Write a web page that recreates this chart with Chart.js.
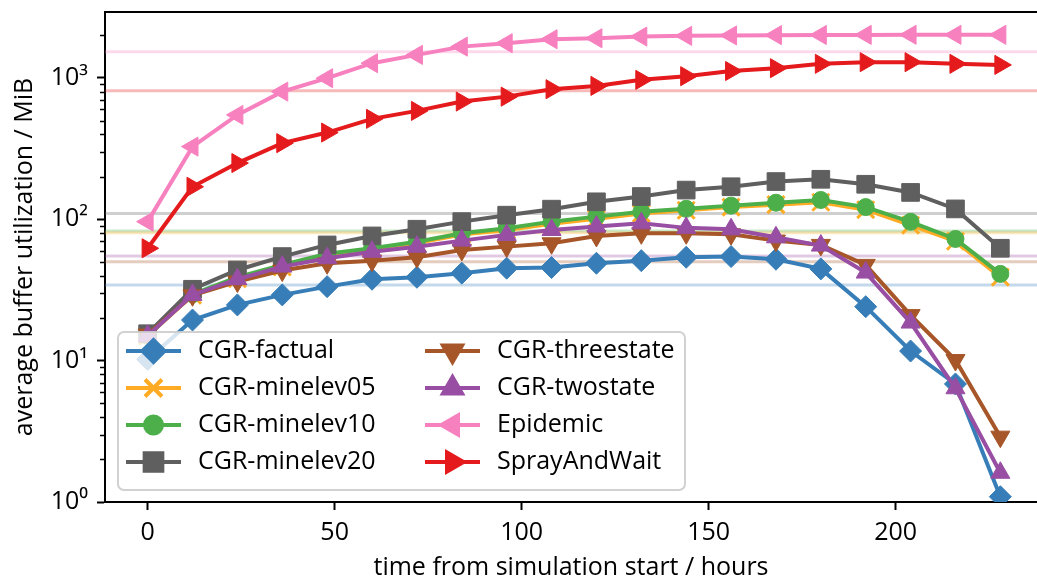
<!DOCTYPE html>
<html>
<head>
<meta charset="utf-8">
<title>Buffer utilization</title>
<script src="https://cdn.jsdelivr.net/npm/chart.js@4.4.1/dist/chart.umd.min.js"></script>
<style>
  html, body { margin: 0; padding: 0; background: #fff; overflow: hidden; }
  #wrap { width: 1037px; height: 579px; overflow: hidden; }
</style>
</head>
<body>
<div id="wrap"><canvas id="bufferChart" width="1037" height="579"></canvas></div>
<script>
// hours since simulation start
const hours = [0, 12, 24, 36, 48, 60, 72, 84, 96, 108, 120, 132, 144, 156, 168, 180, 192, 204, 216, 228];

// average buffer utilization (MiB) per routing scheme
const cgrFactual    = [10.2, 19.4, 24.8, 29.2, 33.4, 37.7, 38.9, 41.6, 45.1, 45.6, 48.9, 51, 53.9, 54.5, 52.2, 44.6, 24.1, 11.7, 6.84, 1.09];
const cgrMinelev05  = [15, 29, 38, 46, 56, 61, 68, 78, 84, 93, 101, 110, 116, 122, 127, 132, 117, 91, 70, 39];
const cgrMinelev10  = [15, 29.5, 39, 47.5, 57, 62.4, 69.5, 79.7, 86.5, 96.3, 104.5, 113, 118.6, 125, 131, 137, 122, 96, 72.6, 41.1];
const cgrMinelev20  = [15.5, 32, 43.8, 54.5, 65.9, 76.3, 85.1, 96.3, 107, 118, 133, 145, 161, 170, 185, 192, 177, 155, 118.5, 62.4];
const cgrThreestate = [15.3, 29, 36.3, 43.4, 48.9, 51, 54, 60.7, 64.1, 67.7, 76.3, 79.7, 79.7, 78.4, 70.7, 65.9, 47.6, 21, 10.1, 2.9];
const cgrTwostate   = [15, 29.2, 37.7, 46.3, 53.1, 59, 64, 70.7, 77.6, 84.1, 88.8, 93.7, 87, 85, 74.6, 65.2, 42, 18.6, 6.38, 1.61];
const epidemic      = [96.3, 327, 548, 801, 997, 1273, 1457, 1667, 1762, 1880, 1910, 1963, 1986, 2000, 2010, 2015, 2018, 2020, 2020, 2020];
const sprayAndWait  = [62.4, 170, 250, 346, 411, 514, 585, 681, 738, 833, 879, 970, 1030, 1120, 1173, 1259, 1294, 1294, 1259, 1238];

// mean over the whole run, drawn as faint horizontal lines
const meanLevels = [34.3, 80.5, 82.6, 110, 50, 55, 1535, 813];

const seriesNames = ['CGR-factual', 'CGR-minelev05', 'CGR-minelev10', 'CGR-minelev20',
                     'CGR-threestate', 'CGR-twostate', 'Epidemic', 'SprayAndWait'];
const seriesValues = [cgrFactual, cgrMinelev05, cgrMinelev10, cgrMinelev20,
                      cgrThreestate, cgrTwostate, epidemic, sprayAndWait];

const xTicks = [0, 50, 100, 150, 200];
const yTicks = [1, 10, 100, 1000];
const yTickLabels = ['10\u2070', '10\u00b9', '10\u00b2', '10\u00b3'];

// view limits (the right edge of the original figure is cropped)
const xMin = -11.4, xMax = 237.8;
const yMin = 1, yMax = 2930;

// marker look, same order as the series
const seriesColors = ['#377eb8', '#ffab23', '#4daf4a', '#5f5f5f', '#a65628', '#984ea3', '#f781bf', '#e41a1c'];
const meanColors = ['rgba(55,126,184,0.3)', 'rgba(255,171,35,0.3)', 'rgba(77,175,74,0.3)', 'rgba(95,95,95,0.3)',
                    'rgba(166,86,40,0.3)', 'rgba(152,78,163,0.3)', 'rgba(247,129,191,0.3)', 'rgba(228,26,28,0.3)'];
const markers = [
  { style: 'rectRot', rotation: 0, radius: 11, border: 1 },
  { style: 'crossRot', rotation: 0, radius: 12, border: 3 },
  { style: 'circle', rotation: 0, radius: 8.5, border: 1 },
  { style: 'rect', rotation: 0, radius: 12.5, border: 1 },
  { style: 'triangle', rotation: 180, radius: 11, border: 1 },
  { style: 'triangle', rotation: 0, radius: 11, border: 1 },
  { style: 'triangle', rotation: 270, radius: 11, border: 1 },
  { style: 'triangle', rotation: 90, radius: 11, border: 1 }
];

const FONT = '"Open Sans", "Noto Sans", sans-serif';
const FSIZE = 25;

document.addEventListener('DOMContentLoaded', function() {
  const ctx = document.getElementById('bufferChart');

  const datasets = [];

  // faint mean lines (behind everything)
  meanLevels.forEach((m, i) => {
    datasets.push({
      label: 'mean ' + seriesNames[i],
      data: [{ x: xMin, y: m }, { x: xMax, y: m }],
      borderColor: meanColors[i],
      borderWidth: 3,
      pointRadius: 0,
      order: 100,
      clip: 0
    });
  });

  seriesValues.forEach((vals, i) => {
    const mk = markers[i];
    datasets.push({
      label: seriesNames[i],
      data: hours.map((h, j) => ({ x: h, y: vals[j] })),
      borderColor: seriesColors[i],
      backgroundColor: seriesColors[i],
      borderWidth: 4,
      pointStyle: mk.style,
      pointRotation: mk.rotation,
      pointRadius: mk.radius,
      pointBorderWidth: mk.border,
      pointBackgroundColor: seriesColors[i],
      pointBorderColor: seriesColors[i],
      tension: 0,
      order: 20 - i,
      clip: 0
    });
  });

  // minor ticks on the log axis
  const minorTicks = {
    id: 'minorTicks',
    afterDraw(chart) {
      const y = chart.scales.y;
      const c = chart.ctx;
      c.save();
      c.strokeStyle = '#000';
      c.lineWidth = 1.5;
      for (let e = 0; e < 4; e++) {
        for (let m = 2; m < 10; m++) {
          const v = m * Math.pow(10, e);
          if (v > y.max) continue;
          const py = Math.round(y.getPixelForValue(v)) + 0.5;
          c.beginPath();
          c.moveTo(y.right, py);
          c.lineTo(y.right - 5, py);
          c.stroke();
        }
      }
      c.restore();
    }
  };

  // matplotlib-style legend box, two columns
  const boxLegend = {
    id: 'boxLegend',
    afterDatasetsDraw(chart) {
      const c = chart.ctx;
      c.save();
      c.beginPath();
      c.roundRect(118, 332, 567, 158, 6);
      c.fillStyle = 'rgba(255,255,255,0.8)';
      c.fill();
      c.lineWidth = 2;
      c.strokeStyle = 'rgba(204,204,204,0.9)';
      c.stroke();

      seriesNames.forEach((name, i) => {
        const col = Math.floor(i / 4);
        const row = i % 4;
        const x0 = col ? 425 : 126;
        const y = 351 + row * 37;
        const mk = markers[i];

        c.strokeStyle = seriesColors[i];
        c.fillStyle = seriesColors[i];
        c.lineWidth = 4;
        c.beginPath();
        c.moveTo(x0, y);
        c.lineTo(x0 + 55, y);
        c.stroke();

        Chart.helpers.drawPoint(c, {
          pointStyle: mk.style,
          rotation: mk.rotation,
          radius: mk.radius,
          borderWidth: mk.border
        }, x0 + 27.5, y);

        c.fillStyle = '#000';
        c.font = FSIZE + 'px ' + FONT;
        c.textBaseline = 'middle';
        c.textAlign = 'left';
        c.fillText(name, x0 + 72, y);
      });
      c.restore();
    }
  };

  const noPad = scale => {
    scale.paddingTop = 0;
    scale.paddingBottom = 0;
    scale.paddingLeft = 0;
    scale.paddingRight = 0;
  };

  new Chart(ctx, {
    type: 'line',
    data: { datasets: datasets },
    plugins: [minorTicks, boxLegend],
    options: {
      responsive: false,
      animation: false,
      layout: { autoPadding: false, padding: 0 },
      plugins: {
        legend: { display: false },
        tooltip: { enabled: false }
      },
      scales: {
        x: {
          type: 'linear',
          position: 'bottom',
          min: xMin,
          max: xMax,
          afterBuildTicks: scale => { scale.ticks = xTicks.map(v => ({ value: v })); },
          afterFit: scale => { scale.height = 77; noPad(scale); },
          ticks: {
            color: '#000',
            font: { family: FONT, size: FSIZE },
            padding: 8,
            maxRotation: 0
          },
          grid: {
            drawOnChartArea: false,
            drawTicks: true,
            tickLength: 8,
            tickWidth: 2,
            tickColor: '#000',
            color: '#000'
          },
          border: { display: true, color: '#000', width: 2 },
          title: {
            display: true,
            text: 'time from simulation start / hours',
            color: '#000',
            font: { family: FONT, size: FSIZE },
            padding: { top: 0, bottom: -4 }
          }
        },
        xTop: {
          type: 'linear',
          position: 'top',
          min: xMin,
          max: xMax,
          ticks: { display: false },
          grid: { drawOnChartArea: false, drawTicks: false },
          border: { display: true, color: '#000', width: 2 },
          afterFit: scale => { scale.height = 12; noPad(scale); }
        },
        y: {
          type: 'logarithmic',
          min: yMin,
          max: yMax,
          afterBuildTicks: scale => { scale.ticks = yTicks.map(v => ({ value: v })); },
          afterFit: scale => { scale.width = 105; noPad(scale); },
          ticks: {
            color: '#000',
            font: { family: FONT, size: FSIZE },
            padding: 9,
            callback: function(value) {
              const k = yTicks.indexOf(value);
              return k >= 0 ? yTickLabels[k] : '';
            }
          },
          grid: {
            drawOnChartArea: false,
            drawTicks: true,
            tickLength: 8,
            tickWidth: 2,
            tickColor: '#000',
            color: '#000'
          },
          border: { display: true, color: '#000', width: 2 },
          title: {
            display: true,
            text: 'average buffer utilization / MiB',
            color: '#000',
            font: { family: FONT, size: FSIZE },
            padding: { top: 10, bottom: 0 }
          }
        }
      }
    }
  });
});
</script>
</body>
</html>
